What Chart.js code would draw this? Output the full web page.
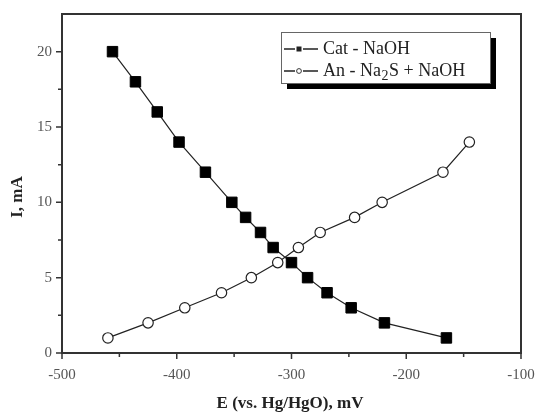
<!DOCTYPE html>
<html>
<head>
<meta charset="utf-8">
<script src="https://cdn.jsdelivr.net/npm/chart.js@4.4.0/dist/chart.umd.min.js"></script>
<style>
  html, body { margin: 0; padding: 0; background: #fff; }
  #wrap { width: 535px; height: 414px; }
</style>
</head>
<body>
<div id="wrap"><canvas id="chart" width="535" height="414"></canvas></div>
<script>
// Cat - NaOH (filled squares)
const catE = [-456, -436, -417, -398, -375, -352, -340, -327, -316, -300, -286, -269, -248, -219, -165];
const catI = [20, 18, 16, 14, 12, 10, 9, 8, 7, 6, 5, 4, 3, 2, 1];
// An - Na2S + NaOH (open circles)
const anE = [-460, -425, -393, -361, -335, -312, -294, -275, -245, -221, -168, -145];
const anI = [1, 2, 3, 4, 5, 6, 7, 8, 9, 10, 12, 14];

const xTicks = [-500, -400, -300, -200, -100];
const yTicks = [0, 5, 10, 15, 20];
const xMinor = [-450, -350, -250, -150];
const yMinor = [2.5, 7.5, 12.5, 17.5];

const serif = '"Liberation Serif", "DejaVu Serif", serif';
const ink = '#222';

const pts = (xs, ys) => xs.map((x, i) => ({ x: x, y: ys[i] }));

const framePlugin = {
  id: 'frame',
  afterDraw(chart) {
    const { ctx, chartArea: a, scales } = chart;
    const xs = scales.x, ys = scales.y;
    ctx.save();
    // frame
    ctx.strokeStyle = '#333';
    ctx.lineWidth = 2;
    ctx.strokeRect(a.left, a.top, a.right - a.left, a.bottom - a.top);
    // tick marks
    ctx.lineWidth = 1.5;
    ctx.beginPath();
    xTicks.forEach(v => { const p = xs.getPixelForValue(v); ctx.moveTo(p, a.bottom); ctx.lineTo(p, a.bottom + 6); });
    xMinor.forEach(v => { const p = xs.getPixelForValue(v); ctx.moveTo(p, a.bottom); ctx.lineTo(p, a.bottom + 4); });
    yTicks.forEach(v => { const p = ys.getPixelForValue(v); ctx.moveTo(a.left, p); ctx.lineTo(a.left - 6, p); });
    yMinor.forEach(v => { const p = ys.getPixelForValue(v); ctx.moveTo(a.left, p); ctx.lineTo(a.left - 4, p); });
    ctx.stroke();

    // axis titles
    ctx.fillStyle = ink;
    ctx.font = 'bold 17px ' + serif;
    ctx.textAlign = 'center';
    ctx.textBaseline = 'middle';
    ctx.fillText('E (vs. Hg/HgO), mV', 290, 404);
    ctx.save();
    ctx.translate(18, 197);
    ctx.rotate(-Math.PI / 2);
    ctx.fillText('I, mA', 0, 0);
    ctx.restore();

    // legend box with shadow
    const lx = 281, ly = 32, lw = 209, lh = 51;
    ctx.fillStyle = '#000';
    ctx.fillRect(lx + 6, ly + 6, lw, lh);
    ctx.fillStyle = '#fff';
    ctx.fillRect(lx, ly, lw, lh);
    ctx.strokeStyle = '#666';
    ctx.lineWidth = 1;
    ctx.strokeRect(lx + 0.5, ly + 0.5, lw, lh);

    const rows = [49, 71];
    ctx.strokeStyle = ink;
    ctx.lineWidth = 1.3;
    rows.forEach((ry, i) => {
      ctx.beginPath();
      ctx.moveTo(lx + 3, ry); ctx.lineTo(lx + 14, ry);
      ctx.moveTo(lx + 22, ry); ctx.lineTo(lx + 37, ry);
      ctx.stroke();
      if (i === 0) {
        ctx.fillStyle = ink;
        ctx.fillRect(lx + 15.5, ry - 2.5, 5, 5);
      } else {
        ctx.beginPath();
        ctx.arc(lx + 18, ry, 2.4, 0, Math.PI * 2);
        ctx.fillStyle = '#fff';
        ctx.fill();
        ctx.lineWidth = 0.9;
        ctx.stroke();
        ctx.lineWidth = 1.3;
      }
    });
    ctx.fillStyle = ink;
    ctx.textAlign = 'left';
    ctx.textBaseline = 'middle';
    ctx.font = '18px ' + serif;
    const tx = lx + 42;
    ctx.fillText('Cat - NaOH', tx, rows[0]);
    let t = 'An - Na';
    ctx.fillText(t, tx, rows[1]);
    let w = ctx.measureText(t).width + 0.5;
    ctx.font = '14px ' + serif;
    ctx.fillText('2', tx + w, rows[1] + 5);
    w += ctx.measureText('2').width + 0.5;
    ctx.font = '18px ' + serif;
    ctx.fillText('S + NaOH', tx + w, rows[1]);
    ctx.restore();
  }
};

new Chart(document.getElementById('chart'), {
  type: 'scatter',
  data: {
    datasets: [
      {
        label: 'Cat - NaOH',
        data: pts(catE, catI),
        showLine: true,
        borderColor: ink,
        borderWidth: 1.2,
        pointStyle: 'rect',
        pointRadius: 7.4,
        pointBackgroundColor: '#000',
        pointBorderColor: '#000',
        pointBorderWidth: 1
      },
      {
        label: 'An - Na2S + NaOH',
        data: pts(anE, anI),
        showLine: true,
        borderColor: ink,
        borderWidth: 1.2,
        pointStyle: 'circle',
        pointRadius: 5.2,
        pointBackgroundColor: '#fff',
        pointBorderColor: ink,
        pointBorderWidth: 1.2
      }
    ]
  },
  options: {
    responsive: false,
    animation: false,
    layout: { padding: { left: 0, top: 14, right: 14, bottom: 0 } },
    plugins: { legend: { display: false }, tooltip: { enabled: false } },
    scales: {
      x: {
        type: 'linear',
        min: -500, max: -100,
        afterFit: s => { s.height = 61; s.paddingLeft = 0; s.paddingRight = 0; },
        afterBuildTicks: s => { s.ticks = xTicks.map(v => ({ value: v })); },
        grid: { display: false, drawTicks: false },
        border: { display: false },
        ticks: { color: '#555', padding: 13, font: { family: serif, size: 15 } }
      },
      y: {
        type: 'linear',
        min: 0, max: 22.5,
        afterFit: s => { s.width = 62; s.paddingTop = 0; s.paddingBottom = 0; },
        afterBuildTicks: s => { s.ticks = yTicks.map(v => ({ value: v })); },
        grid: { display: false, drawTicks: false },
        border: { display: false },
        ticks: { color: '#555', padding: 10, font: { family: serif, size: 15 } }
      }
    }
  },
  plugins: [framePlugin]
});
</script>
</body>
</html>
